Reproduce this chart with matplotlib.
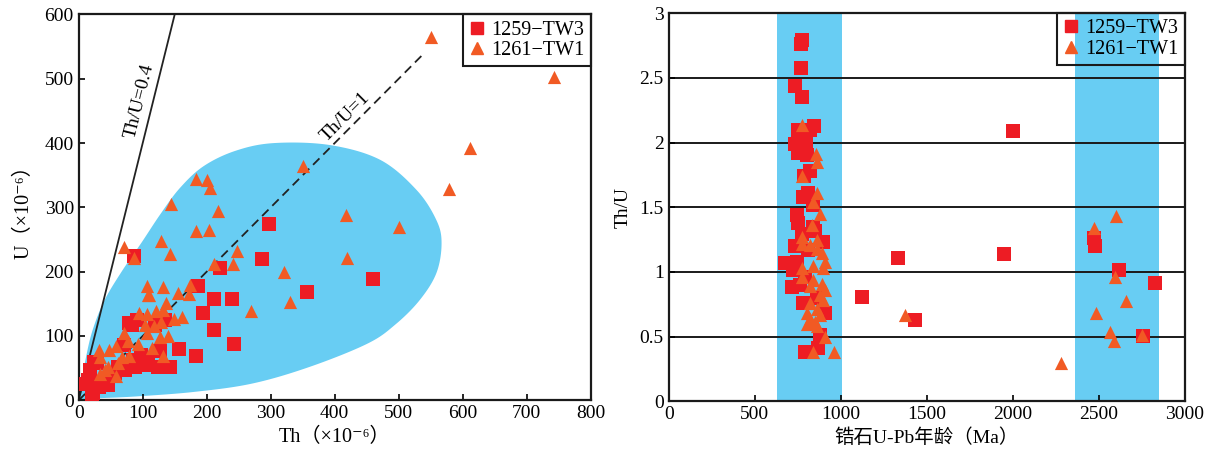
import numpy as np
import matplotlib.pyplot as plt
from matplotlib.lines import Line2D
from matplotlib.ticker import FuncFormatter

plt.rcParams['font.family'] = ['Liberation Serif', 'DejaVu Serif', 'Noto Sans CJK SC']

# ---- left panel: Th vs U (x10^-6)
tw3_th = [212, 239, 194, 212, 242, 156, 184, 287, 356, 460, 298, 86, 221, 186,
          78, 91, 119, 135, 70, 127, 143, 124, 104, 88, 72, 57, 28, 18, 15, 36,
          46, 23, 20, 10, 98, 109, 85, 62, 44, 31, 84, 24]
tw3_u = [157, 157, 135, 109, 87, 80, 69, 220, 168, 188, 274, 224, 206, 177,
         120, 125, 117, 125, 86, 76, 52, 52, 55, 52, 47, 42, 58, 47, 32, 26,
         24, 11, 3, 26, 70, 63, 63, 52, 34, 21, 117, 60]
tw1_th = [550, 742, 611, 578, 351, 417, 501, 420, 321, 330, 269, 241, 248, 211,
          184, 200, 205, 144, 217, 184, 204, 128, 71, 86, 142, 174, 106, 131,
          155, 110, 137, 94, 106, 121, 131, 149, 161, 129, 118, 104, 106, 127,
          140, 70, 77, 92, 114, 31, 47, 58, 67, 78, 33, 131, 46, 62, 33, 58, 41,
          173, 109]
tw1_u = [565, 503, 392, 328, 365, 288, 269, 222, 199, 153, 139, 212, 232, 212,
         344, 343, 330, 306, 295, 264, 265, 248, 239, 222, 228, 179, 177, 176,
         167, 164, 152, 135, 134, 139, 140, 126, 130, 122, 116, 117, 104, 99,
         100, 104, 92, 88, 82, 78, 78, 84, 67, 69, 67, 69, 52, 58, 41, 38, 47,
         166, 163]

# outline of the blue field (Th, U)
field_th = [0, 5, 12, 22, 40, 67, 98, 128, 158, 195, 245, 305, 392, 471, 528,
            559, 567, 559, 533, 495, 451, 361, 271, 180, 90, 30]
field_u = [0, 30, 70, 110, 155, 200, 245, 290, 330, 364, 388, 400, 397, 374,
           327, 280, 244, 198, 156, 118, 88, 52, 26, 13, 6, 3]

# ---- right panel: age vs Th/U
tw3_age = [773, 767, 767, 734, 773, 843, 750, 821, 734, 797, 750, 802, 821, 787,
           783, 812, 841, 744, 754, 841, 899, 734, 676, 744, 724, 719, 763, 783,
           909, 880, 792, 870, 773, 812, 792, 860, 851,
           2000, 1331, 1948, 1122, 1432, 2471, 2479, 2616, 2826, 2756]
tw3_ratio = [2.79, 2.76, 2.58, 2.44, 2.35, 2.13, 2.10, 2.10, 1.99, 1.995, 1.92,
             1.905, 1.78, 1.74, 1.58, 1.61, 1.52, 1.44, 1.38, 1.35, 1.23, 1.20,
             1.07, 1.08, 1.015, 0.88, 0.90, 0.76, 0.68, 0.51, 0.38, 0.41, 1.29,
             1.17, 0.96, 0.80, 1.32,
             2.09, 1.106, 1.137, 0.81, 0.629, 1.265, 1.20, 1.015, 0.913, 0.505]
tw1_age = [773, 855, 860, 777, 860, 841, 880, 835, 773, 860, 773, 821, 860, 890,
           909, 841, 773, 899, 773, 841, 890, 821, 909, 880, 899, 821, 860, 802,
           880, 821, 851, 802, 860, 909, 841, 963,
           1374, 2281, 2599, 2471, 2597, 2657, 2484, 2567, 2589, 2750]
tw1_ratio = [2.14, 1.91, 1.85, 1.74, 1.61, 1.54, 1.45, 1.36, 1.27, 1.25, 1.22,
             1.21, 1.18, 1.145, 1.08, 1.05, 1.03, 1.03, 0.96, 0.94, 0.91, 0.89,
             0.86, 0.82, 0.78, 0.76, 0.71, 0.68, 0.67, 0.64, 0.615, 0.60, 0.58,
             0.50, 0.38, 0.38,
             0.667, 0.294, 1.435, 1.343, 0.959, 0.778, 0.68, 0.534, 0.469, 0.51]
bands = [(630, 1010), (2360, 2850)]

red = '#ED1C24'
orange = '#F15A24'
blue = '#68CDF3'


def closed_spline(x, y, n=20):
    # catmull-rom through the outline points, closed loop
    p = np.column_stack([x, y]).astype(float)
    m = len(p)
    out = []
    for i in range(m):
        p0, p1, p2, p3 = p[i - 1], p[i], p[(i + 1) % m], p[(i + 2) % m]
        for t in np.linspace(0, 1, n, endpoint=False):
            t2, t3 = t * t, t * t * t
            out.append(0.5 * (2 * p1 + (-p0 + p2) * t
                              + (2 * p0 - 5 * p1 + 4 * p2 - p3) * t2
                              + (-p0 + 3 * p1 - 3 * p2 + p3) * t3))
    return np.array(out)


fig = plt.figure(figsize=(12.28, 4.61), dpi=100)
ax1 = fig.add_axes([0.0641, 0.1317, 0.4169, 0.8369])
ax2 = fig.add_axes([0.5445, 0.1295, 0.4202, 0.8416])

# left panel
outline = closed_spline(field_th, field_u)
ax1.fill(outline[:, 0], outline[:, 1], color=blue, lw=0, zorder=0)
ax1.plot([0, 150], [0, 600], color='#222222', lw=1.3, zorder=1)
ax1.plot([0, 540], [0, 540], color='#222222', lw=1.3, ls=(0, (5, 3)), zorder=1)
ax1.text(95, 465, 'Th/U=0.4', rotation=76, fontsize=14, ha='center', va='center')
ax1.text(416, 441, 'Th/U=1', rotation=45, fontsize=14, ha='center', va='center')
ax1.scatter(tw3_th, tw3_u, marker='s', s=105, color=red, lw=0, zorder=3)
ax1.scatter(tw1_th, tw1_u, marker='^', s=90, color=orange, lw=0, zorder=4)
ax1.set_xlim(0, 800)
ax1.set_ylim(0, 600)
ax1.set_xticks(range(0, 801, 100))
ax1.set_yticks(range(0, 601, 100))
ax1.set_xlabel('Th（×10⁻⁶）', fontsize=14.5, labelpad=4)
ax1.set_ylabel('U（×10⁻⁶）', fontsize=14.5, labelpad=8)

# right panel
for lo, hi in bands:
    ax2.axvspan(lo, hi, color=blue, lw=0, zorder=0)
for yv in [0.5, 1, 1.5, 2, 2.5]:
    ax2.axhline(yv, color='#1a1a1a', lw=1.4, zorder=1)
ax2.scatter(tw3_age, tw3_ratio, marker='s', s=105, color=red, lw=0, zorder=3)
ax2.scatter(tw1_age, tw1_ratio, marker='^', s=90, color=orange, lw=0, zorder=4)
ax2.set_xlim(0, 3000)
ax2.set_ylim(0, 3)
ax2.set_xticks(range(0, 3001, 500))
ax2.set_yticks(np.arange(0, 3.01, 0.5))
ax2.yaxis.set_major_formatter(FuncFormatter(lambda v, p: '%g' % v))
ax2.set_xlabel('锆石U-Pb年龄（Ma）', fontsize=14, labelpad=4)
ax2.set_ylabel('Th/U', fontsize=14, labelpad=6)

handles = [Line2D([0], [0], marker='s', color=red, lw=0, markersize=8, label='1259−TW3'),
           Line2D([0], [0], marker='^', color=orange, lw=0, markersize=8, label='1261−TW1')]

for ax in (ax1, ax2):
    for sp in ax.spines.values():
        sp.set_linewidth(1.6)
        sp.set_color('#1a1a1a')
    ax.tick_params(direction='in', length=4, width=1.2, labelsize=14)
    leg = ax.legend(handles=handles, loc='upper right', bbox_to_anchor=(1, 1),
                    borderaxespad=0, fontsize=14.5, fancybox=False, framealpha=1,
                    handlelength=0.8, handletextpad=0.3, labelspacing=0.05,
                    borderpad=0.3)
    leg.get_frame().set_facecolor('none')
    leg.get_frame().set_edgecolor('#1a1a1a')
    leg.get_frame().set_linewidth(1.5)
    leg.set_zorder(10)

fig.savefig('out.png', dpi=100)
